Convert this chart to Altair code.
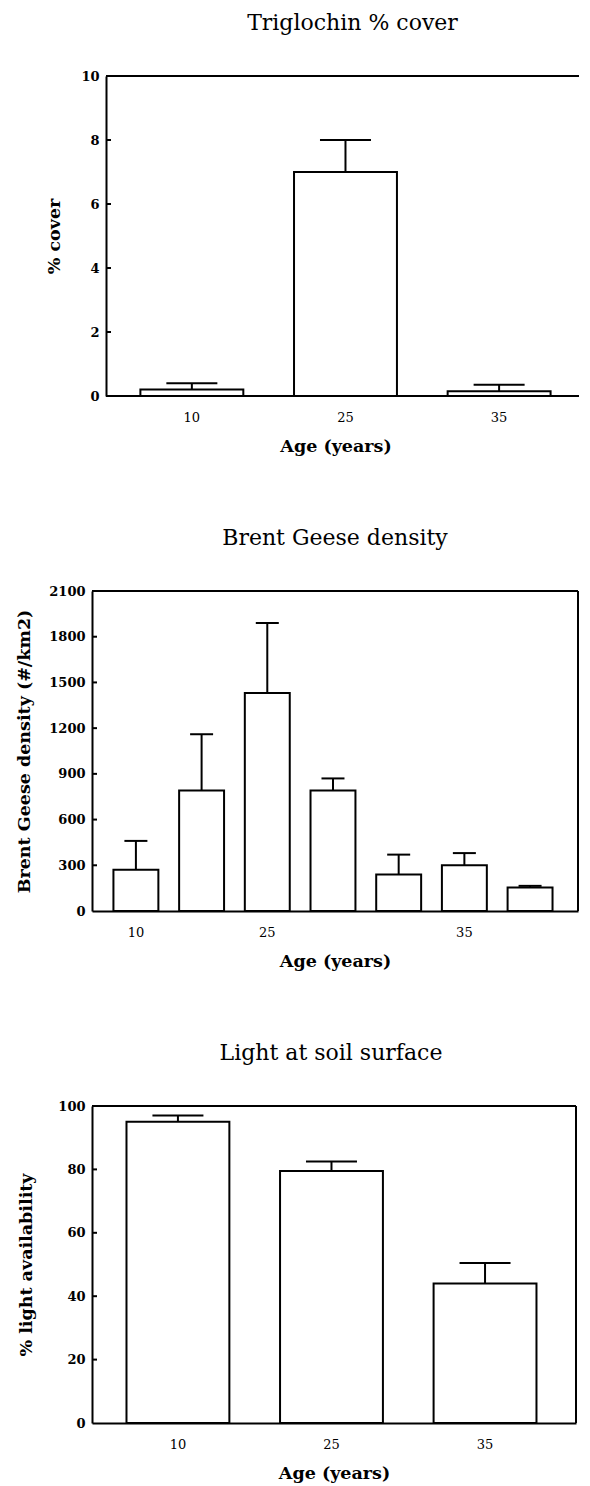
import altair as alt
import pandas as pd

FONT = "DejaVu Serif"

# ---------------- data ----------------
# Panel 1: Triglochin % cover
tri_ages = ["10", "25", "35"]
tri_mean = [0.2, 7.0, 0.15]
tri_se = [0.2, 1.0, 0.2]
tri_ticks = [0, 2, 4, 6, 8, 10]

# Panel 2: Brent Geese density
geese_pos = [1, 2, 3, 4, 5, 6, 7]
geese_labels = ["10", "", "25", "", "", "35", ""]
geese_mean = [270, 790, 1430, 790, 240, 300, 155]
geese_se = [190, 370, 460, 80, 130, 80, 10]
geese_ticks = [0, 300, 600, 900, 1200, 1500, 1800, 2100]

# Panel 3: Light at soil surface
light_ages = ["10", "25", "35"]
light_mean = [95, 79.5, 44]
light_se = [2, 3, 6.5]
light_ticks = [0, 20, 40, 60, 80, 100]


def panel(cats, xtype, means, ses, ticks, width, height, title, ytitle,
          pad_inner, pad_outer, align, cap, axis_off, ytitle_x, title_dx,
          label_expr=None, full_frame=True):
    df = pd.DataFrame({"cat": cats, "mean": means,
                       "top": [m + s for m, s in zip(means, ses)]})
    xscale = alt.Scale(paddingInner=pad_inner, paddingOuter=pad_outer, align=align)
    xaxis_kw = dict(title="Age (years)", labelAngle=0, labelBaseline="middle",
                    labelPadding=21, titleY=50, titleBaseline="middle",
                    labelFontSize=13, labelFontWeight="normal",
                    titleFontSize=17.5, titleFontWeight="bold",
                    domain=full_frame)
    if label_expr:
        xaxis_kw["labelExpr"] = label_expr
    xaxis = alt.Axis(**xaxis_kw)
    yscale = alt.Scale(domain=[ticks[0], ticks[-1]], nice=False)
    yaxis = alt.Axis(title=ytitle, values=ticks, offset=axis_off, format="d",
                     labelPadding=7, labelFontSize=13, labelFontWeight="bold",
                     titleX=ytitle_x, titleY=height / 2, titleAngle=270,
                     titleAlign="center", titleBaseline="middle",
                     titleFontSize=17.5, titleFontWeight="bold")

    def X():
        return alt.X(f"cat:{xtype}", sort=list(cats), scale=xscale, axis=xaxis)

    def Y(field):
        return alt.Y(f"{field}:Q", scale=yscale, axis=yaxis)

    base = alt.Chart(df)
    bars = base.mark_bar(fill="white", stroke="black", strokeWidth=2).encode(
        x=X(), y=Y("mean"))
    stems = base.mark_rule(color="black", strokeWidth=2).encode(
        x=X(), y=Y("mean"), y2="top:Q")
    caps = base.mark_tick(color="black", thickness=2, size=cap, opacity=1).encode(
        x=X(), y=Y("top"))

    x0 = -axis_off
    tdf = pd.DataFrame({"t": ticks[1:-1]})
    tick_rules = alt.Chart(tdf).mark_rule(color="black", strokeWidth=2).encode(
        y=Y("t"), x=alt.value(x0), x2=alt.value(x0 + 5))

    one = pd.DataFrame({"k": [0]})
    top_rule = alt.Chart(one).mark_rule(color="black", strokeWidth=2).encode(
        x=alt.value(x0), x2=alt.value(width), y=alt.value(0))
    layers = [bars, stems, caps, tick_rules, top_rule]
    if full_frame:
        right_rule = alt.Chart(one).mark_rule(color="black", strokeWidth=2).encode(
            x=alt.value(width), y=alt.value(0), y2=alt.value(height))
        layers.append(right_rule)
    else:
        bottom_rule = alt.Chart(one).mark_rule(color="black", strokeWidth=2).encode(
            x=alt.value(x0), x2=alt.value(width), y=alt.value(height))
        layers.append(bottom_rule)

    return alt.layer(*layers).properties(
        width=width, height=height,
        title=alt.TitleParams(title, offset=18, dx=title_dx, frame="group",
                              baseline="alphabetic", anchor="middle"))


geese_expr = "[" + ",".join(f"'{l}'" for l in geese_labels) + "][toNumber(datum.value) - 1]"

p1 = panel(tri_ages, "N", tri_mean, tri_se, tri_ticks, 487, 320,
           "Triglochin % cover", "% cover",
           0.33, 0.25, 0.63, 51, -14, -52, 17, full_frame=False)
p2 = panel(geese_pos, "O", geese_mean, geese_se, geese_ticks, 486, 320,
           "Brent Geese density", "Brent Geese density (#/km2)",
           0.316, 0.357, 0.457, 23, 0, -68, 0, label_expr=geese_expr)
p3 = panel(light_ages, "N", light_mean, light_se, light_ticks, 484, 317,
           "Light at soil surface", "% light availability",
           0.33, 0.241, 0.466, 51, 0, -66, -3)

chart = alt.vconcat(p1, p2, p3, spacing=72).properties(
    padding={"left": 7, "top": 4, "right": 0, "bottom": 5},
    background="white",
).configure_view(strokeWidth=0).configure_axis(
    grid=False, ticks=False, tickSize=0, domainColor="black", domainWidth=2,
    labelColor="black", titleColor="black", labelFont=FONT, titleFont=FONT,
).configure_title(
    font=FONT, fontSize=22, fontWeight="normal", color="black",
)

chart.save("out.html", embed_options={"renderer": "svg", "actions": False})
